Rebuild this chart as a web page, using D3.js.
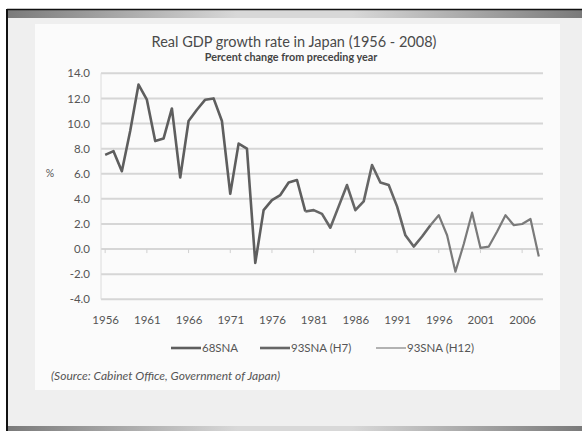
<!DOCTYPE html>
<html>
<head>
<meta charset="utf-8">
<script src="https://cdn.jsdelivr.net/npm/d3@7"></script>
<style>
  html, body { margin: 0; padding: 0; background: #ffffff; }
  svg { display: block; }
</style>
</head>
<body>
<svg id="chart" width="582" height="431"></svg>
<script>
// ---- data ----
const title = "Real GDP growth rate in Japan (1956 - 2008)";
const subtitle = "Percent change from preceding year";
const sourceText = "(Source:  Cabinet Office, Government of Japan)";
const yTicks = [14, 12, 10, 8, 6, 4, 2, 0, -2, -4];
const xTickYears = [1956, 1961, 1966, 1971, 1976, 1981, 1986, 1991, 1996, 2001, 2006];
const sna68Years = d3.range(1956, 1981);
const sna68 = [7.5, 7.8, 6.2, 9.4, 13.1, 11.9, 8.6, 8.8, 11.2, 5.7, 10.2, 11.1, 11.9, 12.0, 10.2, 4.4, 8.4, 8.0, -1.1, 3.1, 3.9, 4.3, 5.3, 5.5, 3.0];
const h7Years = d3.range(1980, 1996);
const h7 = [3.0, 3.1, 2.8, 1.7, 3.4, 5.1, 3.1, 3.8, 6.7, 5.3, 5.1, 3.4, 1.1, 0.2, 1.0, 1.9];
const h12Years = d3.range(1995, 2009);
const h12 = [1.9, 2.7, 1.1, -1.8, 0.4, 2.9, 0.1, 0.2, 1.4, 2.7, 1.9, 2.0, 2.4, -0.6];
const seriesNames = ["68SNA", "93SNA (H7)", "93SNA (H12)"];

const svg = d3.select("#chart");
const font = "Lato, 'Open Sans', sans-serif";

// ---- slide background ----
svg.append("rect").attr("x", 0).attr("y", 0).attr("width", 582).attr("height", 431).attr("fill", "#ffffff");
svg.append("rect").attr("x", 7).attr("y", 10).attr("width", 575).attr("height", 421).attr("fill", "#efefef");
const defs = svg.append("defs");
const g1 = defs.append("linearGradient").attr("id", "band").attr("x1", "0").attr("x2", "1").attr("y1", "0").attr("y2", "0");
g1.append("stop").attr("offset", "0").attr("stop-color", "#7a7a7a");
g1.append("stop").attr("offset", "0.4").attr("stop-color", "#d8d8d8");
g1.append("stop").attr("offset", "0.6").attr("stop-color", "#d8d8d8");
g1.append("stop").attr("offset", "1").attr("stop-color", "#7a7a7a");
svg.append("rect").attr("x", 7).attr("y", 10).attr("width", 575).attr("height", 8).attr("fill", "url(#band)");
svg.append("rect").attr("x", 7).attr("y", 426).attr("width", 575).attr("height", 5).attr("fill", "url(#band)");
svg.append("line").attr("x1", 7).attr("x2", 582).attr("y1", 9.5).attr("y2", 9.5).attr("stroke", "#111").attr("stroke-width", 1.5);
svg.append("line").attr("x1", 7).attr("x2", 7).attr("y1", 9).attr("y2", 431).attr("stroke", "#111").attr("stroke-width", 2);

// chart panel
svg.append("rect").attr("x", 35).attr("y", 24).attr("width", 525).attr("height", 366).attr("fill", "#fbfbfb");

// ---- scales ----
const x = d3.scaleLinear().domain([1955.5, 2008.5]).range([101, 543]);
const y = d3.scaleLinear().domain([-4, 14]).range([299.3, 73.3]);

// gridlines
svg.append("g").selectAll("line").data(yTicks).join("line")
  .attr("x1", x(1955.5)).attr("x2", x(2008.5))
  .attr("y1", d => y(d)).attr("y2", d => y(d))
  .attr("stroke", "#d6d6d6").attr("stroke-width", 2);
svg.append("line").attr("x1", x(1955.5)).attr("x2", x(1955.5)).attr("y1", y(14)).attr("y2", y(-4))
  .attr("stroke", "#dcdcdc").attr("stroke-width", 1);

// y axis labels
const yAxis = d3.axisLeft(y).tickValues(yTicks).tickFormat(d => d.toFixed(1)).tickSize(0).tickPadding(0);
const ya = svg.append("g").attr("transform", "translate(90,0)").call(yAxis);
ya.select(".domain").remove();
ya.selectAll("text").attr("font-family", font).attr("font-size", 11.5).attr("fill", "#555");

// x axis labels
const xAxis = d3.axisBottom(x).tickValues(xTickYears).tickFormat(d3.format("d")).tickSize(0).tickPadding(0);
const xa = svg.append("g").attr("transform", "translate(0,316)").call(xAxis);
xa.select(".domain").remove();
xa.selectAll("text").attr("font-family", font).attr("font-size", 11.5).attr("fill", "#555");

// small ticks on zero line
svg.append("g").selectAll("line").data(xTickYears).join("line")
  .attr("x1", d => x(d)).attr("x2", d => x(d))
  .attr("y1", y(0)).attr("y2", y(0) + 4)
  .attr("stroke", "#d0d0d0").attr("stroke-width", 1);

// "%" label
svg.append("text").attr("x", 50).attr("y", 177).attr("font-family", font).attr("font-size", 10.5)
  .attr("fill", "#555").attr("text-anchor", "middle").text("%");

// titles
svg.append("text").attr("x", 294).attr("y", 47).attr("text-anchor", "middle")
  .attr("font-family", font).attr("font-size", 14.5).attr("fill", "#4a4a4a").text(title);
svg.append("text").attr("x", 291).attr("y", 61).attr("text-anchor", "middle")
  .attr("font-family", font).attr("font-size", 10.8).attr("font-weight", "bold").attr("fill", "#444").text(subtitle);

// ---- lines ----
const line = d3.line().x(d => x(d[0])).y(d => y(d[1]));
const series = [
  { name: seriesNames[0], pts: d3.zip(sna68Years, sna68), color: "#5e5e5e", w: 2.6 },
  { name: seriesNames[1], pts: d3.zip(h7Years, h7), color: "#666666", w: 2.6 },
  { name: seriesNames[2], pts: d3.zip(h12Years, h12), color: "#7a7a7a", w: 2.2 }
];
svg.append("g").selectAll("path").data(series).join("path")
  .attr("d", d => line(d.pts)).attr("fill", "none")
  .attr("stroke", d => d.color).attr("stroke-width", d => d.w)
  .attr("stroke-linejoin", "round");

// ---- legend ----
const legendPos = [171, 260, 376];
const lg = svg.append("g").selectAll("g").data(series).join("g")
  .attr("transform", (d, i) => `translate(${legendPos[i]},348)`);
lg.append("line").attr("x1", 0).attr("x2", 30).attr("y1", 0).attr("y2", 0)
  .attr("stroke", (d, i) => i === 2 ? "#9a9a9a" : d.color).attr("stroke-width", (d, i) => i === 2 ? 1.5 : 2.6);
lg.append("text").attr("x", 31).attr("y", 4).attr("font-family", font).attr("font-size", 11.5)
  .attr("fill", "#555").text(d => d.name);

// source
svg.append("text").attr("x", 51).attr("y", 380).attr("font-family", font).attr("font-size", 12)
  .attr("font-style", "italic").attr("fill", "#555").text(sourceText);
</script>
</body>
</html>
